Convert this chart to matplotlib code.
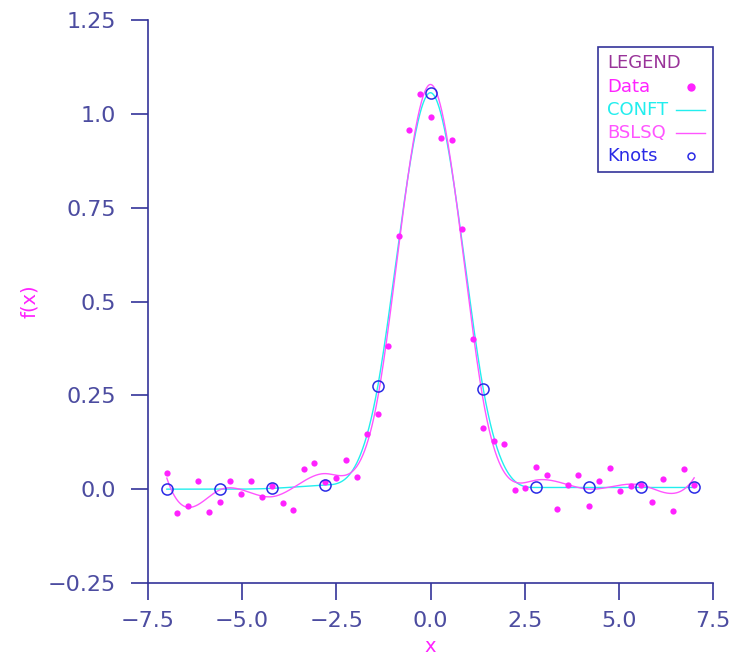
import numpy as np
import matplotlib
matplotlib.use("Agg")
import matplotlib.pyplot as plt
from matplotlib import rcParams as rcp
from matplotlib.patches import Rectangle

rcp['font.family'] = ['DejaVu Sans']
rcp['font.size'] = 16

# data
x_data = [-7.00, -6.72, -6.44, -6.16, -5.88, -5.60, -5.32, -5.04, -4.76, -4.48,
          -4.20, -3.92, -3.64, -3.36, -3.08, -2.80, -2.52, -2.24, -1.96, -1.68,
          -1.40, -1.12, -0.84, -0.56, -0.28, 0.00, 0.28, 0.56, 0.84, 1.12,
          1.40, 1.68, 1.96, 2.24, 2.52, 2.80, 3.08, 3.36, 3.64, 3.92,
          4.20, 4.48, 4.76, 5.04, 5.32, 5.60, 5.88, 6.16, 6.44, 6.72, 7.00]
y_data = [0.042, -0.063, -0.045, 0.023, -0.062, -0.035, 0.023, -0.012, 0.023, -0.021,
          0.008, -0.038, -0.056, 0.055, 0.070, 0.020, 0.029, 0.078, 0.032, 0.146,
          0.199, 0.382, 0.675, 0.956, 1.054, 0.991, 0.936, 0.930, 0.694, 0.399,
          0.162, 0.128, 0.120, -0.003, 0.004, 0.059, 0.038, -0.054, 0.012, 0.038,
          -0.044, 0.022, 0.057, -0.005, 0.009, 0.012, -0.033, 0.026, -0.059, 0.055,
          0.010]
knots = [-7.0, -5.6, -4.2, -2.8, -1.4, 0.0, 1.4, 2.8, 4.2, 5.6, 7.0]
legend_labels = ['Data', 'CONFT', 'BSLSQ', 'Knots']

col_axis = '#34349a'
col_tick = '#4c4ca0'
col_data = '#ff22ff'
col_conft = '#22eeee'
col_bslsq = '#ff55ff'
col_knot = '#2a2ae6'
col_title = '#993399'


def basis(x, t, k=4):
    x = np.asarray(x, float)
    B = np.zeros((len(x), len(t) - 1))
    for i in range(len(t) - 1):
        B[:, i] = (t[i] <= x) & (x < t[i + 1])
    last = np.max(np.nonzero(np.diff(t) > 0))
    B[x >= t[-1], last] = 1.0
    for d in range(1, k):
        Bn = np.zeros((len(x), len(t) - 1 - d))
        for i in range(len(t) - 1 - d):
            a = t[i + d] - t[i]
            b = t[i + d + 1] - t[i + 1]
            if a > 0:
                Bn[:, i] += (x - t[i]) / a * B[:, i]
            if b > 0:
                Bn[:, i] += (t[i + d + 1] - x) / b * B[:, i + 1]
        B = Bn
    return B


t = np.r_[[knots[0]] * 3, knots, [knots[-1]] * 3]
Bd = basis(x_data, t)
yd = np.array(y_data)
nc = Bd.shape[1]

# BSLSQ: plain least squares spline
c_ls = np.linalg.lstsq(Bd, yd, rcond=None)[0]

# CONFT: least squares, nonnegative, rising to the centre and falling after it
mid = nc // 2
nw = nc + 1
M = np.zeros((nc, nw))
for j in range(nc):
    if j <= mid:
        M[j, 0] = 1.0
        M[j, 1:j + 1] = 1.0
    else:
        M[j, mid + 1] = 1.0
        M[j, j + 1:] = 1.0
A = Bd @ M
L = np.linalg.eigvalsh(A.T @ A).max()
w = np.zeros(nw)
z = w.copy()
tk = 1.0
for it in range(40000):
    g = A.T @ (A @ z - yd)
    wn = np.clip(z - g / L, 0, None)
    tn = (1 + np.sqrt(1 + 4 * tk * tk)) / 2
    z = wn + (tk - 1) / tn * (wn - w)
    w, tk = wn, tn
c_cf = M @ w

xs = np.linspace(knots[0], knots[-1], 1401)
Bs = basis(xs, t)
y_cf = Bs @ c_cf
y_ls = Bs @ c_ls
y_knot = basis(knots, t) @ c_cf

fig = plt.figure(figsize=(7.35, 6.57), dpi=100)
ax = fig.add_axes([148 / 735, 74 / 657, 565 / 735, 563 / 657])

ax.plot(xs, y_cf, color=col_conft, lw=1.0, zorder=2)
ax.plot(xs, y_ls, color=col_bslsq, lw=1.0, zorder=3)
ax.plot(x_data, y_data, 'o', color=col_data, ms=4.5, mec='none', zorder=4)
ax.plot(knots, y_knot, 'o', mfc='none', mec=col_knot, mew=1.1, ms=8, zorder=5)

ax.set_xlim(-7.5, 7.5)
ax.set_ylim(-0.25, 1.25)
ax.set_xticks([-7.5, -5.0, -2.5, 0.0, 2.5, 5.0, 7.5])
ax.set_yticks([-0.25, 0.0, 0.25, 0.5, 0.75, 1.0, 1.25])
ax.set_yticklabels(['\u22120.25', '0.0', '0.25', '0.5', '0.75', '1.0', '1.25'])
ax.set_xticklabels(['\u22127.5', '\u22125.0', '\u22122.5', '0.0', '2.5', '5.0', '7.5'])
for s in ['top', 'right']:
    ax.spines[s].set_visible(False)
for s in ['left', 'bottom']:
    ax.spines[s].set_color(col_axis)
    ax.spines[s].set_linewidth(1.2)
ax.tick_params(direction='out', length=12, width=1.2, color=col_axis,
               labelcolor=col_tick, labelsize=16, pad=8)
ax.tick_params(axis='y', pad=11)

ax.set_xlabel('x', color=col_data, fontsize=14, va='center')
ax.xaxis.set_label_coords(0.5, (583 - 646) / 563)
ax.set_ylabel('f(x)', color=col_data, fontsize=14, va='center')
ax.yaxis.set_label_coords((30 - 148) / 565, 0.5)

# hand-built legend box, in figure pixels
def fx(px):
    return px / 735


def fy(py):
    return 1 - py / 657


fig.patches.append(Rectangle((fx(598), fy(172)), fx(713) - fx(598), fy(47) - fy(172),
                             transform=fig.transFigure, fill=False,
                             edgecolor=col_axis, lw=1.2))
fig.text(fx(607), fy(63), 'LEGEND', color=col_title, fontsize=13, va='center')
rows = [87, 110, 133, 156]
cols = [col_data, col_conft, col_bslsq, col_knot]
for lab, c, r in zip(legend_labels, cols, rows):
    fig.text(fx(607), fy(r), lab, color=c, fontsize=13, va='center')
fig.add_artist(plt.Line2D([fx(691)], [fy(87)], marker='o', color=col_data,
                          ms=6, mec='none', transform=fig.transFigure))
fig.add_artist(plt.Line2D([fx(676), fx(705)], [fy(110), fy(110)], color=col_conft,
                          lw=1.0, transform=fig.transFigure))
fig.add_artist(plt.Line2D([fx(676), fx(705)], [fy(133), fy(133)], color=col_bslsq,
                          lw=1.0, transform=fig.transFigure))
fig.add_artist(plt.Line2D([fx(691)], [fy(156)], marker='o', mfc='none', mec=col_knot,
                          mew=1.1, ms=5, transform=fig.transFigure))

fig.savefig('out.png', dpi=100)
